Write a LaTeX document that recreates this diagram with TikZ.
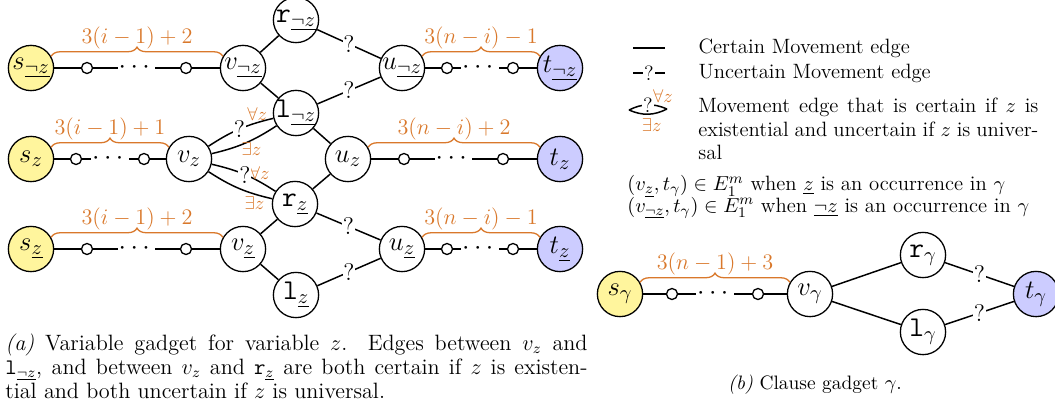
\documentclass[tikz,border=0pt]{standalone}
\usepackage{amsmath,amssymb}
\usepackage{fontspec}
\usepackage{xcolor}
\usepackage{tikz}
\usetikzlibrary{positioning, decorations.pathreplacing, calc}
\definecolor{srcyellow}  {HTML}{FFF59D}
\definecolor{tgtblue}    {HTML}{CCCCFF}
\definecolor{braceorange}{HTML}{D9782B}
\tikzset{
  gadget/.style={
    circle, draw, line width=0.7pt, fill=white,
    minimum size=0.86cm, inner sep=-1pt,
    font=\fontsize{15.5}{18}\selectfont
  },
  srcnode/.style={gadget, fill=srcyellow},
  tgtnode/.style={gadget, fill=tgtblue},
  hopnode/.style={circle, draw, line width=0.7pt, fill=white,
    minimum size=0.21cm, inner sep=0pt},
  dotsmark/.style={midway, fill=white, inner sep=0.5pt,
    font=\fontsize{15.5}{18}\selectfont},
  qmark/.style={midway, fill=white, inner sep=0.5pt,
    font=\fontsize{13}{15}\selectfont},
  quantlabel/.style={text=braceorange, inner sep=1pt, font=\normalsize},
  bracedec/.style={decorate, decoration={brace, amplitude=5pt},
    draw=braceorange, line width=0.7pt},
  bracelabel/.style={midway, above=3pt, inner sep=0.5pt,
    text=braceorange, font=\large},
  movedge/.style={line width=0.8pt},
  legtext/.style={inner sep=0pt, font=\fontsize{11.2}{12.6}\selectfont},
  captext/.style={inner sep=0pt, font=\fontsize{12}{13}\selectfont}
}

\begin{document}
\begin{tikzpicture}[x=0.019cm, y=-0.019cm]
  \useasboundingbox (0,0) rectangle (1055,408);

  % variable gadget: row of the negated literal
  \node[srcnode] (sN) at (31,68)   {$s_{\underline{\neg z}}$};
  \node[gadget]  (vN) at (243,68)  {$v_{\underline{\neg z}}$};
  \node[gadget]  (rN) at (296,20)  {$\mathtt{r}_{\underline{\neg z}}$};
  \node[gadget]  (lN) at (296,113) {$\mathtt{l}_{\underline{\neg z}}$};
  \node[gadget]  (uN) at (402,68)  {$u_{\underline{\neg z}}$};
  \node[tgtnode] (tN) at (560,68)  {$t_{\underline{\neg z}}$};

  % variable gadget: middle row
  \node[srcnode] (sZ) at (31,159)  {$s_z$};
  \node[gadget]  (vZ) at (189,159) {$v_z$};
  \node[gadget]  (uZ) at (348,159) {$u_z$};
  \node[tgtnode] (tZ) at (560,159) {$t_z$};

  % variable gadget: row of the positive literal
  \node[srcnode] (sP) at (31,249)  {$s_{\underline{z}}$};
  \node[gadget]  (vP) at (243,249) {$v_{\underline{z}}$};
  \node[gadget]  (rP) at (295,204) {$\mathtt{r}_{\underline{z}}$};
  \node[gadget]  (lP) at (296,295) {$\mathtt{l}_{\underline{z}}$};
  \node[gadget]  (uP) at (402,249) {$u_{\underline{z}}$};
  \node[tgtnode] (tP) at (560,249) {$t_{\underline{z}}$};

  % clause gadget
  \node[srcnode] (sG) at (620,294)  {$s_\gamma$};
  \node[gadget]  (vG) at (810,294)  {$v_\gamma$};
  \node[gadget]  (rG) at (923,255)  {$\mathtt{r}_\gamma$};
  \node[gadget]  (lG) at (923,332)  {$\mathtt{l}_\gamma$};
  \node[tgtnode] (tG) at (1036,294) {$t_\gamma$};

  % inner vertices of the long paths
  \foreach \nm/\x/\y in {N1/87/68, N2/186/68, N3/447/68, N4/513/68,
                         Z1/76/159, Z2/144/159, Z3/404/159, Z4/503/159,
                         P1/87/249, P2/186/249, P3/447/249, P4/513/249,
                         G1/672/294, G2/758/294}
    \node[hopnode] (h\nm) at (\x,\y) {};

  \foreach \a/\b in {sN/hN1, hN2/vN, uN/hN3, hN4/tN,
                     sZ/hZ1, hZ2/vZ, uZ/hZ3, hZ4/tZ,
                     sP/hP1, hP2/vP, uP/hP3, hP4/tP,
                     sG/hG1, hG2/vG}
    \draw[movedge] (\a) -- (\b);

  \foreach \a/\b in {hN1/hN2, hN3/hN4, hZ1/hZ2, hZ3/hZ4,
                     hP1/hP2, hP3/hP4, hG1/hG2}
    \draw[movedge] (\a) -- (\b) node[dotsmark] (d\a) {$\cdots$};

  % certain edges
  \foreach \a/\b in {vN/rN, vN/lN, lN/uZ, rP/uZ, rP/vP, vP/lP, vG/rG, vG/lG}
    \draw[movedge] (\a) -- (\b);

  % uncertain edges
  \foreach \a/\b in {rN/uN, lN/uN, rP/uP, lP/uP, rG/tG, lG/tG}
    \draw[movedge] (\a) -- (\b) node[qmark] (q\a\b) {?};

  % edges that depend on the quantifier of z
  \draw[movedge] (vZ) to[bend left=10]
    node[quantlabel, pos=0.78, above] (faN) {$\forall z$}
    node[qmark] (qvZlN) {?} (lN);
  \draw[movedge] (vZ) to[bend right=10]
    node[quantlabel, pos=0.6, below] (exN) {$\exists z$} (lN);
  \draw[movedge] (vZ) to[bend left=10]
    node[quantlabel, pos=0.75, above] (faP) {$\forall z$}
    node[qmark] (qvZrP) {?} (rP);
  \draw[movedge] (vZ) to[bend right=10]
    node[quantlabel, pos=0.75, below] (exP) {$\exists z$} (rP);

  % path lengths
  \foreach \a/\b/\lab in {sN/vN/{3(i-1)+2}, uN/tN/{3(n-i)-1},
                          sZ/vZ/{3(i-1)+1}, uZ/tZ/{3(n-i)+2},
                          sP/vP/{3(i-1)+2}, uP/tP/{3(n-i)-1},
                          sG/vG/{3(n-1)+3}}
    \draw[bracedec] (\a.30) -- (\b.150) node[bracelabel] (br\a) {$\lab$};

  % legend
  \coordinate (lgA1) at (633,48);
  \coordinate (lgA2) at (665,48);
  \draw[movedge] (lgA1) -- (lgA2);
  \node[legtext, right=0.63cm of lgA2] (lgA) {Certain Movement edge};

  \coordinate (lgB1) at (633,73);
  \coordinate (lgB2) at (665,73);
  \draw[movedge] (lgB1) -- (lgB2)
    node[qmark, font=\fontsize{11.2}{12}\selectfont] (lgBq) {?};
  \node[legtext, right=0.63cm of lgB2] (lgB) {Uncertain Movement edge};

  \coordinate (lgC1) at (629,110);
  \coordinate (lgC2) at (667,109);
  \draw[movedge] (lgC1) to[bend left=25]
    node[quantlabel, pos=0.9, above=1pt] (lgCa) {$\forall z$}
    node[qmark, font=\fontsize{11.2}{12}\selectfont] (lgCq) {?} (lgC2);
  \draw[movedge] (lgC1) to[bend right=25]
    node[quantlabel, pos=0.6, below=1pt] (lgCe) {$\exists z$} (lgC2);
  \node[legtext, anchor=north west, text width=6.46cm, align=justify]
    (lgC) at (698,98)
    {Movement edge that is certain if $z$ is\linebreak
     existential and uncertain if $z$ is univer-\linebreak sal};

  \node[legtext, anchor=north west, align=left] (lgD) at (627,175)
    {$(v_{\underline{z}},t_\gamma)\in E_1^m$ when $\underline{z}$ is an
     occurrence in $\gamma$\\[-0.9pt]
     $(v_{\underline{\neg z}},t_\gamma)\in E_1^m$ when $\underline{\neg z}$
     is an occurrence in $\gamma$};

  % captions
  \node[captext, anchor=north west, text width=11.06cm, align=justify]
    (capA) at (5,333)
    {\textit{(a)} Variable gadget for variable $z$. Edges between $v_z$
     and\linebreak $\mathtt{l}_{\underline{\neg z}}$, and between $v_z$ and
     $\mathtt{r}_{\underline{z}}$ are both certain if $z$ is
     existen-\linebreak tial and both uncertain if $z$ is universal.};
  \node[captext, anchor=base, font=\fontsize{10.5}{12}\selectfont]
    (capB) at (815,389) {\textit{(b)} Clause gadget $\gamma$.};

\end{tikzpicture}
\end{document}
